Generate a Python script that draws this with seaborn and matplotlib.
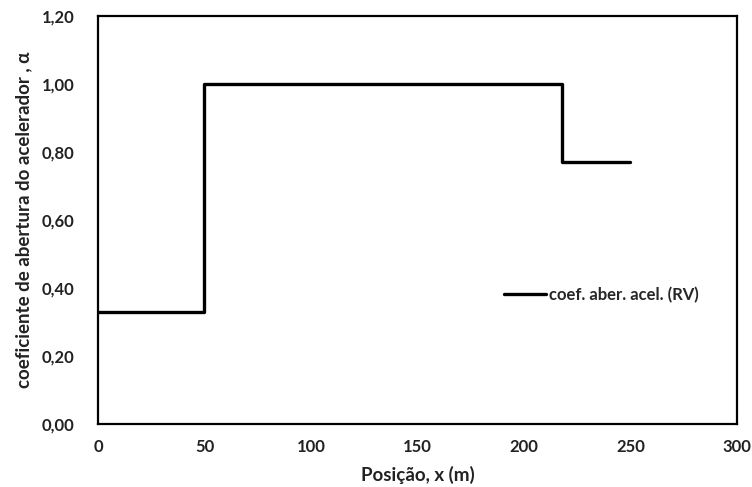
import matplotlib
matplotlib.use("Agg")
import matplotlib.pyplot as plt
import seaborn as sns
import pandas as pd

# Throttle opening coefficient along the track
posicao = [0, 50, 218, 250]
coef = [0.33, 1.00, 0.77, 0.77]
serie = "coef. aber. acel. (RV)"

x_ticks = [0, 50, 100, 150, 200, 250, 300]
y_ticks = [0.0, 0.2, 0.4, 0.6, 0.8, 1.0, 1.2]

df = pd.DataFrame({"x": posicao, "y": coef, "serie": serie})

sns.set_theme(style="white")
plt.rcParams["font.family"] = ["Lato", "DejaVu Sans"]

fig = plt.figure(figsize=(7.52, 4.87), dpi=100)
ax = fig.add_axes([0.1303, 0.1294, 0.8497, 0.8376])

sns.lineplot(data=df, x="x", y="y", hue="serie", palette=["black"],
             drawstyle="steps-post", linewidth=2.4, ax=ax)

ax.set_xlim(0, 300)
ax.set_ylim(0, 1.2)
ax.set_xticks(x_ticks)
ax.set_yticks(y_ticks)
ax.set_xticklabels([str(v) for v in x_ticks], fontweight="bold", fontsize=12, color="#222222")
ax.set_yticklabels([f"{v:.2f}".replace(".", ",") for v in y_ticks],
                   fontweight="bold", fontsize=12, color="#222222")
ax.tick_params(axis="x", length=0, pad=11)
ax.tick_params(axis="y", length=0, pad=17)

ax.set_xlabel("Posição, x (m)", fontsize=13.5, fontweight="bold", color="#222222", labelpad=8)
ax.set_ylabel("coeficiente de abertura do acelerador , α", fontsize=13.5,
              fontweight="bold", color="#222222", labelpad=7)

for s in ax.spines.values():
    s.set_visible(True)
    s.set_color("black")
    s.set_linewidth(1.6)

leg = ax.legend(loc="center left", bbox_to_anchor=(0.623, 0.316), frameon=False,
                handlelength=2.5, handletextpad=0.2, borderpad=0,
                prop={"weight": "bold", "size": 12})
for line in leg.get_lines():
    line.set_linewidth(2.4)

fig.savefig("out.png", dpi=100, facecolor="white")
